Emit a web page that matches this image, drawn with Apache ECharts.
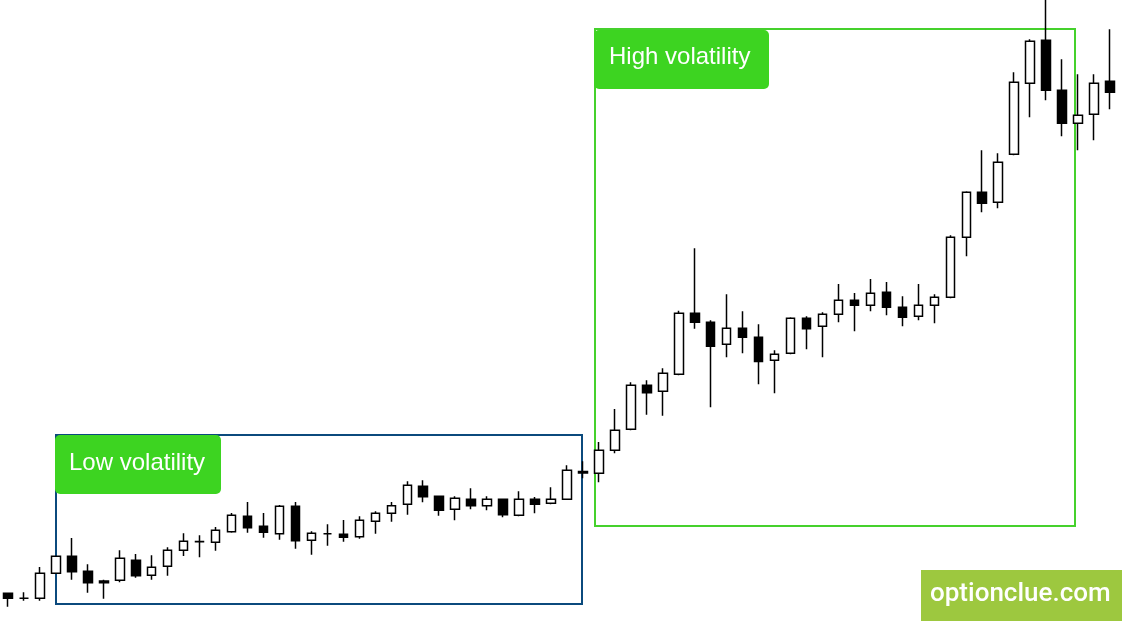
<!DOCTYPE html>
<html>
<head>
<meta charset="utf-8">
<script src="https://cdn.jsdelivr.net/npm/echarts@6/dist/echarts.min.js"></script>
<style>
html,body{margin:0;padding:0;background:#fff;}
#chart{width:1122px;height:621px;}
</style>
</head>
<body>
<div id="chart"></div>
<script>
// Bars (candles) in order, price scale in points
var categories = ['1','2','3','4','5','6','7','8','9','10','11','12','13','14','15','16','17','18','19','20',
  '21','22','23','24','25','26','27','28','29','30','31','32','33','34','35','36','37','38','39','40',
  '41','42','43','44','45','46','47','48','49','50','51','52','53','54','55','56','57','58','59','60',
  '61','62','63','64','65','66','67','68','69','70'];

var opens = [27.7,22.7,22.7,47.7,64.7,49.7,40,40.7,60.7,45.7,54.7,70.7,79.5,78.7,89.3,104.7,94.7,87.3,114.7,80.7,
  87.3,86.7,84.3,99.7,107.7,116.7,134.7,124.7,111.7,121.7,115.3,121.7,105.7,121.7,117.7,121.7,149.5,147.7,170.7,191.7,
  235.7,229.7,246.7,307.7,298.7,276.7,292.7,283.7,260.7,267.7,302.7,294.7,306.7,320.7,315.7,328.7,313.7,304.7,315.7,323.7,
  383.7,428.7,418.7,466.7,537.7,580.7,530.7,497.7,506.7,539.7];
var closes = [22.7,22.7,47.7,64.7,49.3,38.3,38.3,62.7,45.3,53.7,70.7,79.7,79.3,90.7,105.7,93.3,88.7,114.7,80.3,87.7,
  87.3,83.7,100.7,107.7,115.3,135.7,124.3,110.7,122.7,115.3,121.7,106.3,121.7,116.7,121.7,150.7,148,170.7,190.7,235.7,
  228.3,247.7,307.7,298.7,274.7,292.7,283.7,259.5,266.7,302.7,292.3,306.7,320.7,315.7,327.7,313.7,303.7,315.7,323.7,383.7,
  428.7,417.7,458.7,538.7,579.7,530.7,497.7,505.7,537.7,528.7];
var lows = [14.3,20.3,20.3,47.7,41.3,28.3,22.3,38.7,43.3,41.3,45.3,65,63.7,70.3,88.3,88.3,83.3,81.3,72.3,66.3,
  75.3,79.3,82.3,87.3,99.3,106.3,118.7,105.3,100.7,111.7,110.7,103.7,104.7,107.7,116.7,121.7,142.7,138.7,167.7,190.7,
  206.3,205.3,245.7,292.3,213.7,263.7,267.7,236.7,227.7,266.7,271.7,263.7,298.7,289.7,309.7,305.7,294.7,300.7,297.7,322.7,
  364.7,408.7,412.7,465.7,503.7,520.7,484.7,470.7,480.7,511.7];
var highs = [27.7,28.7,54,64.7,83,56.7,41.3,70.7,67,65.7,73.7,87.7,85.7,94,108,119,108,116,119,89.7,
  96.7,101,104.7,109.7,119,139.7,140.7,124.7,124.7,132.7,124.7,121.7,129.7,124,133.7,155.7,159.7,179,212,238.7,
  240.7,252.7,310.3,372.7,300.7,326.7,309.7,296.7,270.7,303.7,304.7,308.7,337,328,342,339,324.7,337,326.7,385.7,
  429.7,470.7,467.7,548.7,581.7,630,561.7,546.7,546.7,591.7];

var candleData = opens.map(function (o, i) { return [o, closes[i], lows[i], highs[i]]; });

var chart = echarts.init(document.getElementById('chart'), null, {renderer: 'canvas'});

chart.setOption({
  animation: false,
  backgroundColor: '#ffffff',
  grid: {left: -2, width: 1120, top: 0, height: 621, containLabel: false},
  xAxis: {
    type: 'category',
    data: categories,
    boundaryGap: true,
    show: false
  },
  yAxis: {
    type: 'value',
    min: 0,
    max: 621,
    show: false,
    splitLine: {show: false}
  },
  series: [{
    type: 'candlestick',
    data: candleData,
    barWidth: 9,
    z: 5,
    clip: true,
    itemStyle: {
      color: '#ffffff',
      color0: '#000000',
      borderColor: '#000000',
      borderColor0: '#000000',
      borderWidth: 1.5
    }
  }],
  graphic: [
    {type: 'rect', z: 1, shape: {x: 56, y: 435, width: 526, height: 169},
      style: {fill: 'none', stroke: '#0b4a7d', lineWidth: 2}},
    {type: 'rect', z: 1, shape: {x: 595, y: 29, width: 480, height: 497},
      style: {fill: 'none', stroke: '#45d12c', lineWidth: 2}},
    {type: 'rect', z: 100, shape: {x: 55, y: 435, width: 166, height: 59, r: 5},
      style: {fill: '#3dd421'}},
    {type: 'text', z: 101,
      style: {x: 69, y: 463, verticalAlign: 'middle', text: 'Low volatility', fill: '#ffffff', font: '24px "Liberation Sans", Arial, sans-serif'}},
    {type: 'rect', z: 100, shape: {x: 594, y: 30, width: 175, height: 59, r: 5},
      style: {fill: '#3dd421'}},
    {type: 'text', z: 101,
      style: {x: 609, y: 57, verticalAlign: 'middle', text: 'High volatility', fill: '#ffffff', font: '24px "Liberation Sans", Arial, sans-serif'}},
    {type: 'rect', z: 100, shape: {x: 921, y: 570, width: 201, height: 51},
      style: {fill: '#9dc83f'}},
    {type: 'text', z: 101,
      style: {x: 930, y: 594, verticalAlign: 'middle', text: 'optionclue.com', fill: '#ffffff', font: '500 26px Roboto, sans-serif'}}
  ]
});
</script>
</body>
</html>
